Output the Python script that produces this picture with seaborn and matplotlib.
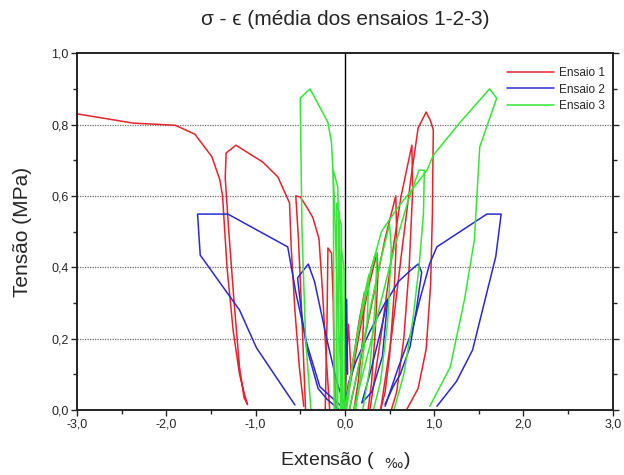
import numpy as np
import pandas as pd
import matplotlib
matplotlib.use("Agg")
import matplotlib.pyplot as plt
import seaborn as sns
from matplotlib.ticker import MultipleLocator, FuncFormatter

# Ensaio 1: strain (per mille), stress (MPa), loop id per point
ensaio1_eps = [
    -3.00, -2.37, -1.90, -1.68, -1.49, -1.40, -1.37, -1.32, -1.25, -1.18, -1.12, -1.09,
    -1.13, -1.18, -1.24, -1.30, -1.34, -1.33, -1.22, -0.92, -0.75, -0.62, -0.60, -0.56, -0.51, -0.46,
    -0.44, -0.48, -0.52, -0.55, -0.50, -0.43, -0.36, -0.29, -0.25, -0.21, -0.17,
    -0.22, -0.20, -0.19, -0.15, -0.13, -0.12, -0.10,
    0.00, 0.08, 0.18, 0.28, 0.36, 0.37, 0.34, 0.30, 0.26,
    0.05, 0.18, 0.32, 0.45, 0.57, 0.58, 0.55, 0.50, 0.45, 0.40,
    0.28, 0.40, 0.52, 0.63, 0.75, 0.76, 0.72, 0.66, 0.58, 0.52,
    0.40, 0.52, 0.64, 0.74, 0.82, 0.91, 0.96, 0.99, 0.98, 0.96, 0.91, 0.82, 0.69,
    0.00, 0.02, 0.04, 0.07,
    0.00, 0.08, 0.16, 0.22, 0.20, 0.15, 0.10,
]
ensaio1_sig = [
    0.830, 0.804, 0.798, 0.773, 0.710, 0.645, 0.600, 0.400, 0.220, 0.100, 0.040, 0.015,
    0.035, 0.120, 0.300, 0.500, 0.650, 0.720, 0.742, 0.695, 0.653, 0.580, 0.450, 0.280, 0.120, 0.010,
    0.000, 0.250, 0.480, 0.600, 0.597, 0.570, 0.540, 0.480, 0.330, 0.150, 0.000,
    0.000, 0.250, 0.454, 0.440, 0.300, 0.120, 0.000,
    0.000, 0.100, 0.240, 0.360, 0.440, 0.380, 0.220, 0.080, 0.000,
    0.000, 0.150, 0.320, 0.480, 0.600, 0.500, 0.320, 0.150, 0.050, 0.000,
    0.000, 0.200, 0.420, 0.600, 0.742, 0.620, 0.400, 0.200, 0.050, 0.000,
    0.000, 0.200, 0.450, 0.650, 0.790, 0.835, 0.810, 0.785, 0.550, 0.350, 0.170, 0.060, 0.000,
    0.000, 0.150, 0.240, 0.100,
    0.000, 0.120, 0.250, 0.330, 0.200, 0.080, 0.000,
]
ensaio1_loop = ([1] * 26 + [2] * 11 + [3] * 7 + [4] * 9 + [5] * 10 + [6] * 10
                + [7] * 13 + [8] * 4 + [9] * 7)

# Ensaio 2
ensaio2_eps = [
    0.00, -0.06, -0.28, -0.42, -0.55, -0.64, -1.31, -1.65, -1.62, -1.18, -0.99, -0.56,
    0.00, -0.09, -0.20, -0.34, -0.41, -0.53, -0.48, -0.43, -0.30, -0.20, -0.06,
    0.45, 0.60, 0.75, 0.84, 0.95, 1.03, 1.59, 1.75, 1.69, 1.43, 1.25, 1.03,
    0.19, 0.30, 0.40, 0.48, 0.60, 0.73, 0.82, 0.86, 0.80, 0.73, 0.62, 0.54, 0.45,
    0.00, 0.04, 0.13, 0.28, 0.45, 0.48, 0.42, 0.30, 0.19,
    0.00, 0.01, 0.02, 0.03,
]
ensaio2_sig = [
    0.000, 0.015, 0.065, 0.180, 0.330, 0.457, 0.549, 0.549, 0.434, 0.280, 0.174, 0.014,
    0.010, 0.078, 0.196, 0.360, 0.409, 0.370, 0.260, 0.177, 0.060, 0.030, 0.000,
    0.010, 0.120, 0.220, 0.310, 0.410, 0.457, 0.549, 0.549, 0.430, 0.168, 0.080, 0.010,
    0.020, 0.120, 0.220, 0.310, 0.360, 0.390, 0.409, 0.386, 0.280, 0.177, 0.100, 0.065, 0.016,
    0.000, 0.075, 0.140, 0.220, 0.300, 0.310, 0.150, 0.050, 0.020,
    0.000, 0.150, 0.310, 0.100,
]
ensaio2_loop = ([1] * 12 + [2] * 11 + [3] * 12 + [4] * 13 + [5] * 9 + [6] * 4)

# Ensaio 3
ensaio3_eps = [
    -0.38, -0.44, -0.48, -0.50, -0.39, -0.19, -0.15, -0.12, -0.08, -0.03,
    -0.12, -0.13, -0.08, -0.05, -0.02,
    -0.08, -0.07, -0.04, -0.02,
    -0.05, -0.04, -0.01, 0.00,
    0.00, 0.15, 0.30, 0.41, 0.60, 0.76, 0.92, 0.99, 1.29, 1.62, 1.70, 1.51, 1.45, 1.34, 1.18, 0.95,
    0.10, 0.25, 0.40, 0.55, 0.70, 0.83, 0.89, 0.88, 0.83, 0.76, 0.66, 0.55,
    0.00, 0.10, 0.22, 0.33, 0.36, 0.34, 0.28, 0.20,
    0.05, 0.15, 0.28, 0.40, 0.50, 0.52, 0.48, 0.40, 0.32,
    0.02, 0.10, 0.20, 0.27, 0.25, 0.18, 0.12,
    -0.10, -0.09, -0.06, -0.04,
]
ensaio3_sig = [
    0.000, 0.200, 0.500, 0.874, 0.900, 0.806, 0.750, 0.600, 0.300, 0.000,
    0.000, 0.672, 0.625, 0.300, 0.000,
    0.000, 0.540, 0.520, 0.000,
    0.000, 0.450, 0.400, 0.000,
    0.000, 0.220, 0.400, 0.500, 0.570, 0.620, 0.672, 0.714, 0.806, 0.900, 0.874, 0.737, 0.476, 0.310, 0.120, 0.010,
    0.000, 0.150, 0.300, 0.450, 0.580, 0.672, 0.672, 0.550, 0.400, 0.250, 0.100, 0.000,
    0.000, 0.150, 0.320, 0.430, 0.440, 0.300, 0.120, 0.000,
    0.000, 0.120, 0.280, 0.420, 0.520, 0.450, 0.250, 0.080, 0.000,
    0.000, 0.150, 0.300, 0.380, 0.250, 0.100, 0.000,
    0.000, 0.580, 0.550, 0.000,
]
ensaio3_loop = ([1] * 10 + [2] * 5 + [3] * 4 + [4] * 4 + [5] * 16 + [6] * 12
                + [7] * 8 + [8] * 9 + [9] * 7 + [10] * 4)

series_names = ["Ensaio 1", "Ensaio 2", "Ensaio 3"]
series_colors = ["#e3242b", "#2a2ad2", "#35e635"]

frames = []
for name, eps, sig, loop in zip(
    series_names,
    [ensaio1_eps, ensaio2_eps, ensaio3_eps],
    [ensaio1_sig, ensaio2_sig, ensaio3_sig],
    [ensaio1_loop, ensaio2_loop, ensaio3_loop],
):
    frames.append(pd.DataFrame({
        "serie": name,
        "eps": eps,
        "sig": sig,
        "ciclo": [f"{name}-{c}" for c in loop],
    }))
df = pd.concat(frames, ignore_index=True)

sns.set_style("ticks")
plt.rcParams["font.family"] = ["Liberation Sans", "DejaVu Sans"]

fig = plt.figure(figsize=(6.24, 4.75), dpi=100)
ax = fig.add_axes([0.1234, 0.137, 0.8586, 0.751])

# horizontal dotted reference lines
for yv in [0.2, 0.4, 0.6, 0.8]:
    ax.axhline(yv, color="#707070", lw=0.9, ls=(0, (1, 1)), zorder=0)
ax.axvline(0, color="black", lw=1.0, zorder=1)

sns.lineplot(
    data=df, x="eps", y="sig", hue="serie", units="ciclo", estimator=None,
    sort=False, palette=series_colors, hue_order=series_names, lw=1.1, ax=ax,
    legend=False,
)

ax.set_xlim(-3, 3)
ax.set_ylim(0, 1)
ax.xaxis.set_major_locator(MultipleLocator(1.0))
ax.xaxis.set_minor_locator(MultipleLocator(0.5))
ax.yaxis.set_major_locator(MultipleLocator(0.2))
ax.yaxis.set_minor_locator(MultipleLocator(0.1))
comma = FuncFormatter(lambda v, p: f"{v:.1f}".replace(".", ","))
ax.xaxis.set_major_formatter(comma)
ax.yaxis.set_major_formatter(comma)
ax.tick_params(axis="both", which="major", direction="out", length=4, width=1,
               labelsize=9, pad=2, right=True)
ax.tick_params(axis="both", which="minor", direction="out", length=3, width=1, right=True)
ax.tick_params(axis="y", which="both", labelright=False)
for s in ax.spines.values():
    s.set_linewidth(1.4)
    s.set_color("#222222")

ax.set_xlabel("Extensão (  $_{‰}$)", fontsize=14, labelpad=14)
ax.set_ylabel("Tensão (MPa)", fontsize=15, labelpad=14)
ax.set_title("σ - ϵ (média dos ensaios 1-2-3)", fontsize=15, pad=20)

handles = [plt.Line2D([], [], color=c, lw=1.1) for c in series_colors]
ax.legend(handles, series_names, loc="upper right", frameon=False, fontsize=8.5,
          handlelength=4.0, handletextpad=0.4, labelspacing=0.4,
          bbox_to_anchor=(1.0, 0.985), borderaxespad=0.3)

fig.savefig("out.png", dpi=100)
